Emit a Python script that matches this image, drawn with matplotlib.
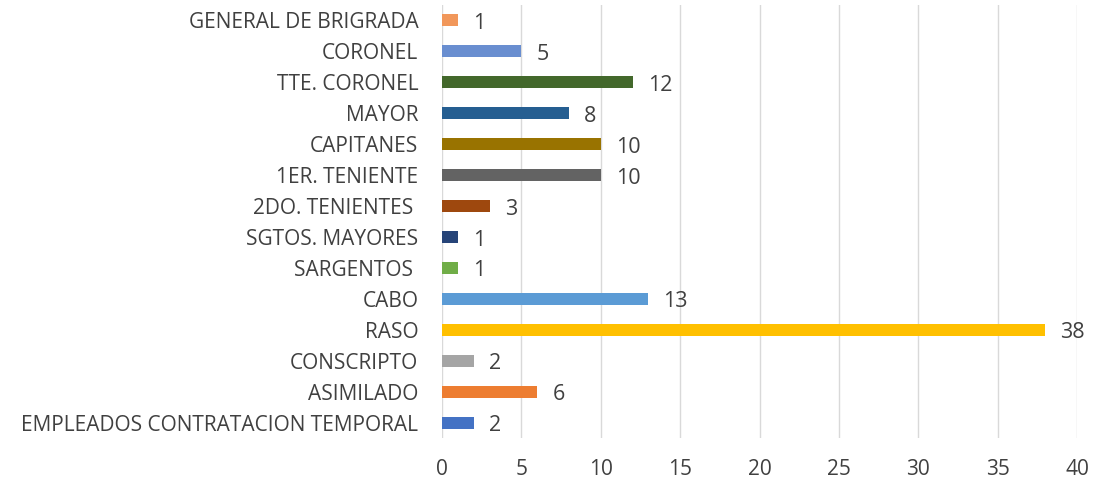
import matplotlib
matplotlib.use("Agg")
import matplotlib.pyplot as plt

categories = ["EMPLEADOS CONTRATACION TEMPORAL", "ASIMILADO", "CONSCRIPTO", "RASO", "CABO",
              "SARGENTOS ", "SGTOS. MAYORES", "2DO. TENIENTES ", "1ER. TENIENTE", "CAPITANES",
              "MAYOR", "TTE. CORONEL", "CORONEL", "GENERAL DE BRIGRADA"]
values = [2, 6, 2, 38, 13, 1, 1, 3, 10, 10, 8, 12, 5, 1]
colors = ["#4472C4", "#ED7D31", "#A5A5A5", "#FFC000", "#5B9BD5", "#70AD47", "#264478",
          "#9E480E", "#636363", "#997300", "#255E91", "#43682B", "#698ED0", "#F1975A"]
xticks = [0, 5, 10, 15, 20, 25, 30, 35, 40]

plt.rcParams['font.family'] = ['Open Sans', 'DejaVu Sans']
fig = plt.figure(figsize=(11.09, 4.83), dpi=100)
ax = fig.add_axes([442/1109, 1-438/483, (1077-442)/1109, 433/483])
y = list(range(len(categories)))
ax.barh(y, values, height=0.39, color=colors, zorder=3)
for yi, v in zip(y, values):
    ax.text(v + 0.95, yi - 0.1, str(v), va='center', ha='left', fontsize=15.5, color='#404040')
ax.set_xlim(0, 40)
ax.set_ylim(-0.5, len(categories) - 0.5)
ax.set_xticks(xticks)
ax.set_yticks(y)
ax.set_yticklabels(categories)
ax.tick_params(axis='y', length=0, pad=17, labelsize=15, labelcolor='#404040')
ax.tick_params(axis='x', length=0, pad=15, labelsize=15, labelcolor='#404040')
ax.grid(axis='x', color='#D9D9D9', linewidth=1, zorder=0)
for s in ax.spines.values():
    s.set_visible(False)
fig.savefig("out.png", dpi=100)
